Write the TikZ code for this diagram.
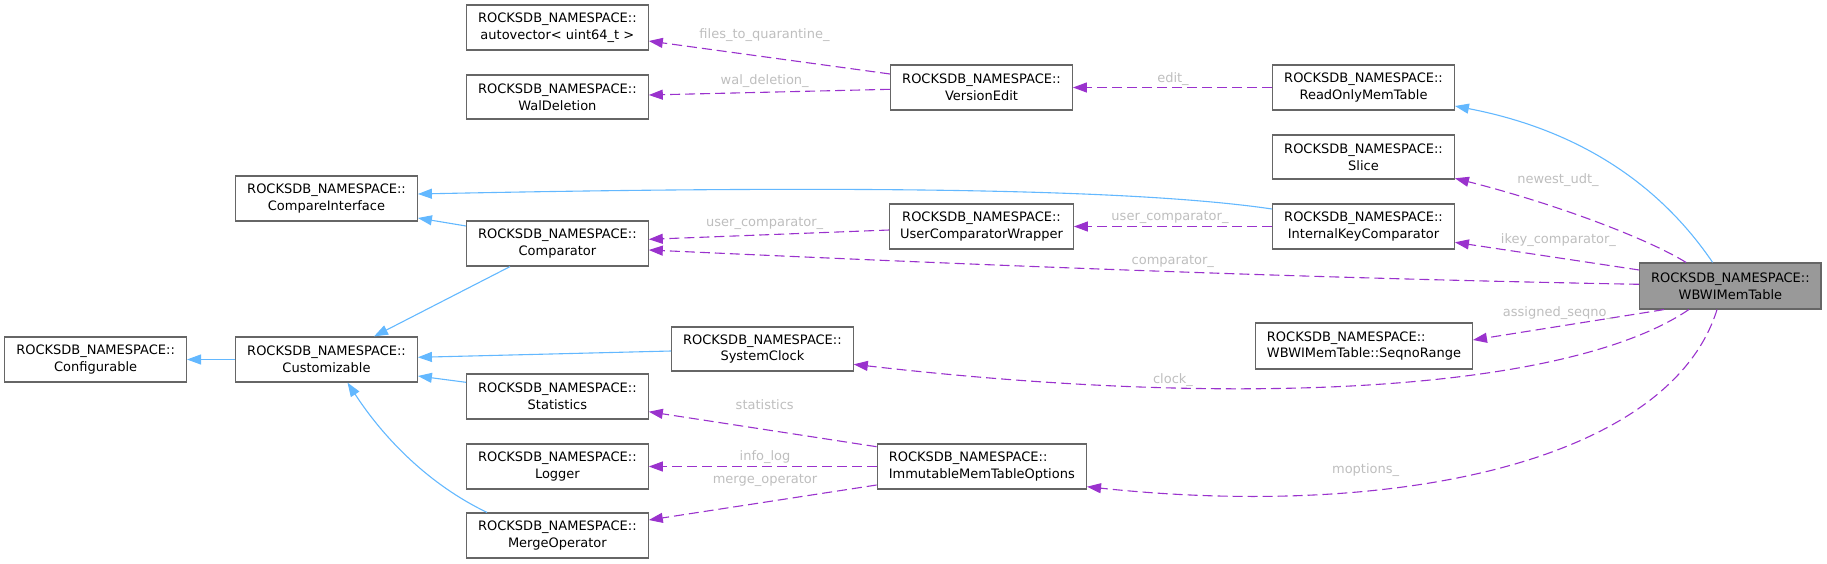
\documentclass[tikz,border=0pt]{standalone}
\usepackage{fontspec}
\setmainfont{DejaVu Sans}
\usetikzlibrary{arrows.meta,calc}
\definecolor{inh}{HTML}{63B8FF}
\definecolor{usec}{HTML}{9A32CD}
\definecolor{lblc}{HTML}{BEBEBE}
\definecolor{bord}{HTML}{666666}
\definecolor{mainfill}{HTML}{999999}
\begin{document}
\begin{tikzpicture}[x=1pt,y=-1pt,
  cls/.style={draw=bord, line width=1.2pt, fill=white, inner sep=0pt,
    minimum height=45pt, minimum width=181.6pt, align=center,
    font=\fontsize{13}{16.7}\selectfont},
  inhe/.style={draw=inh, line width=1.1pt, -{Triangle[length=14pt,width=10pt]}},
  usee/.style={draw=usec, line width=1.1pt, dash pattern=on 10pt off 5pt,
    -{Triangle[length=14pt,width=10pt]}},
  lbl/.style={text=lblc, font=\fontsize{13}{16}\selectfont, inner sep=0pt,
    text height=9.5pt, text depth=3pt}
]
\useasboundingbox (0,0) rectangle (1827,563);

% nodes
\node[cls] (auto) at (557.4,27.5) {ROCKSDB\_NAMESPACE::\\autovector< uint64\_t >};
\node[cls, minimum height=44pt] (wal) at (557.4,97) {ROCKSDB\_NAMESPACE::\\WalDeletion};
\node[cls] (ci) at (326.5,198.5) {ROCKSDB\_NAMESPACE::\\CompareInterface};
\node[cls] (comp) at (557.4,243.5) {ROCKSDB\_NAMESPACE::\\Comparator};
\node[cls] (ve) at (981.5,87.5) {ROCKSDB\_NAMESPACE::\\VersionEdit};
\node[cls, minimum width=183.5pt] (ucw) at (981.5,226.5) {ROCKSDB\_NAMESPACE::\\UserComparatorWrapper};
\node[cls] (romt) at (1363.5,87.5) {ROCKSDB\_NAMESPACE::\\ReadOnlyMemTable};
\node[cls, minimum height=44pt] (slice) at (1363.5,157) {ROCKSDB\_NAMESPACE::\\Slice};
\node[cls] (ikc) at (1363.5,226.5) {ROCKSDB\_NAMESPACE::\\InternalKeyComparator};
\node[cls, fill=mainfill, minimum height=46pt, minimum width=181.2pt] (wbwi) at (1730.4,286) {ROCKSDB\_NAMESPACE::\\WBWIMemTable};
\node[cls] (conf) at (95.6,359.5) {ROCKSDB\_NAMESPACE::\\Configurable};
\node[cls] (cust) at (326.5,359.5) {ROCKSDB\_NAMESPACE::\\Customizable};
\node[cls] (stats) at (557.4,396.5) {ROCKSDB\_NAMESPACE::\\Statistics};
\node[cls] (logger) at (557.4,466.5) {ROCKSDB\_NAMESPACE::\\Logger};
\node[cls] (merge) at (557.4,535.5) {ROCKSDB\_NAMESPACE::\\MergeOperator};
\node[cls, minimum height=44pt] (sysclk) at (762.4,349) {ROCKSDB\_NAMESPACE::\\SystemClock};
\node[cls, align=left, minimum width=209.2pt] (imto) at (981.8,466.5) {ROCKSDB\_NAMESPACE::\\ImmutableMemTableOptions};
\node[cls, align=left, minimum width=216.7pt, minimum height=46pt] (seq) at (1364,346) {ROCKSDB\_NAMESPACE::\\WBWIMemTable::SeqnoRange};

% inheritance edges
\draw[inhe] ($(wbwi.north)+(-17.8,0)$) .. controls (1660,185) and (1580,130) .. ($(romt.east)+(0,18.5)$);
\draw[inhe] ($(ikc.west)+(0,-17.5)$) .. controls (1150,191) and (900,184) .. ($(ci.east)+(0,-4.5)$);
\draw[inhe] ($(comp.west)+(0,-17.5)$) -- ($(ci.east)+(0,19.5)$);
\draw[inhe] ($(comp.south)+(-47.4,0)$) -- ($(cust.north)+(47.5,0)$);
\draw[inhe] (cust.west) -- (conf.east);
\draw[inhe] ($(sysclk.west)+(0,2)$) -- ($(cust.east)+(0,-2.2)$);
\draw[inhe] ($(stats.west)+(0,-14.2)$) -- ($(cust.east)+(0,16.5)$);
\draw[inhe] ($(merge.north)+(-70.4,0)$) .. controls (430,485) and (385,440) .. ($(cust.south)+(21,0)$);

% usage edges
\draw[usee] ($(ve.west)+(0,-13.5)$) -- ($(auto.east)+(0,13.5)$);
\draw[usee] ($(ve.west)+(0,1.8)$) -- ($(wal.east)+(0,-2)$);
\draw[usee] (romt.west) -- (ve.east);
\draw[usee] ($(ucw.west)+(0,3.5)$) -- ($(comp.east)+(0,-4.2)$);
\draw[usee] ($(wbwi.west)+(0,-1.7)$) .. controls (1300,278) and (1000,266) .. ($(comp.east)+(0,6.5)$);
\draw[usee] (ikc.west) -- (ucw.east);
\draw[usee] ($(wbwi.north)+(-44.4,0)$) .. controls (1650,240) and (1560,205) .. ($(slice.east)+(0,21.3)$);
\draw[usee] ($(wbwi.west)+(0,-16)$) -- ($(ikc.east)+(0,15.8)$);
\draw[usee] ($(wbwi.south)+(-66.4,0)$) -- ($(seq.east)+(0,-6)$);
\draw[usee] ($(wbwi.south)+(-41.6,0)$) .. controls (1570,390) and (1250,410) .. ($(sysclk.east)+(0,15.3)$);
\draw[usee] ($(imto.west)+(0,-19.8)$) -- ($(stats.east)+(0,15.2)$);
\draw[usee] (imto.west) -- (logger.east);
\draw[usee] ($(imto.west)+(0,18.5)$) -- ($(merge.east)+(0,-15.5)$);
\draw[usee] ($(wbwi.south)+(-13.4,0)$) .. controls (1670,460) and (1400,520) .. ($(imto.east)+(0,20.2)$);

% edge labels
\node[lbl] (l1) at (764.5,35) {files\_to\_quarantine\_};
\node[lbl] (l2) at (764.7,81.3) {wal\_deletion\_};
\node[lbl] (l3) at (1173,79) {edit\_};
\node[lbl] (l4) at (764.7,223.3) {user\_comparator\_};
\node[lbl] (l5) at (1172.8,261) {comparator\_};
\node[lbl] (l6) at (1170,217.7) {user\_comparator\_};
\node[lbl] (l7) at (1558,180) {newest\_udt\_};
\node[lbl] (l8) at (1558.4,240.3) {ikey\_comparator\_};
\node[lbl] (l9) at (1558,313.3) {assigned\_seqno\_};
\node[lbl] (l10) at (1173,380) {clock\_};
\node[lbl] (l11) at (764.7,406.7) {statistics};
\node[lbl] (l12) at (765,457.7) {info\_log};
\node[lbl] (l13) at (765,480) {merge\_operator};
\node[lbl] (l14) at (1365.6,470.7) {moptions\_};
\end{tikzpicture}
\end{document}
